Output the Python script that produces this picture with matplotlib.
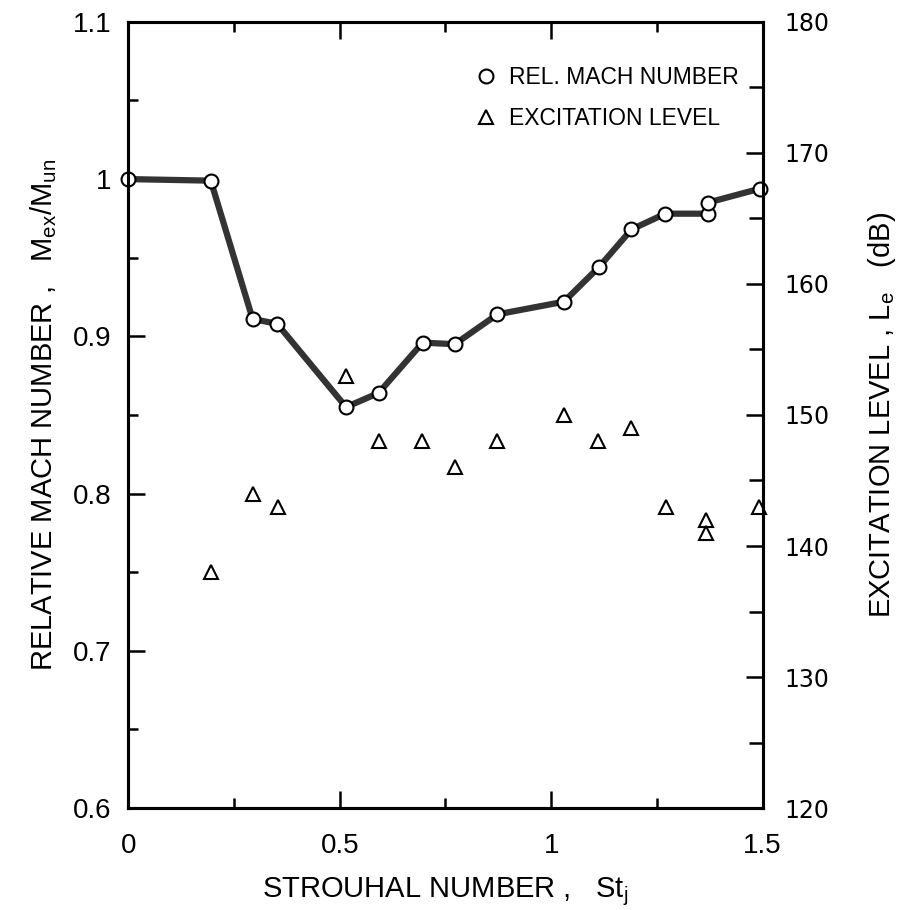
import matplotlib
matplotlib.use("Agg")
import matplotlib.pyplot as plt
from matplotlib.ticker import MultipleLocator

# relative Mach number (left axis)
st_mach = [0.0, 0.195, 0.294, 0.352, 0.515, 0.592, 0.696, 0.772, 0.873,
           1.030, 1.113, 1.190, 1.270, 1.370, 1.370, 1.495]
mach = [1.0, 0.999, 0.911, 0.908, 0.855, 0.864, 0.896, 0.895, 0.914,
        0.922, 0.944, 0.968, 0.978, 0.978, 0.985, 0.994]

# excitation level (right axis, dB)
st_exc = [0.195, 0.296, 0.355, 0.515, 0.592, 0.695, 0.772, 0.871,
          1.031, 1.111, 1.189, 1.271, 1.367, 1.367, 1.492]
exc_db = [138, 144, 143, 153, 148, 148, 146, 148,
          150, 148, 149, 143, 142, 141, 143]

x_ticks = [0, 0.5, 1.0, 1.5]
x_ticklabels = ["0", "0.5", "1", "1.5"]
y_ticks = [0.6, 0.7, 0.8, 0.9, 1.0, 1.1]
y_ticklabels = ["0.6", "0.7", "0.8", "0.9", "1", "1.1"]

NARROW = ["Liberation Sans Narrow", "Liberation Sans", "DejaVu Sans"]
WIDE = ["DejaVu Sans"]

plt.rcParams.update({
    "font.family": NARROW,
    "mathtext.fontset": "custom",
    "mathtext.rm": "Liberation Sans",
    "mathtext.it": "Liberation Sans",
    "axes.linewidth": 2.2,
})

fig = plt.figure(figsize=(9.1, 9.1), dpi=100)
ax = fig.add_axes([0.141, 0.112, 0.697, 0.864])

ax.plot(st_mach, mach, "-", color="0.2", lw=4.5, zorder=2, clip_on=False)
ax.plot(st_mach, mach, "o", ms=10, mfc="white", mec="black", mew=1.5, zorder=3,
        linestyle="none", label="REL. MACH NUMBER", clip_on=False)

ax.set_xlim(0, 1.5)
ax.set_ylim(0.6, 1.1)
ax.set_xticks(x_ticks)
ax.set_xticklabels(x_ticklabels)
ax.xaxis.set_minor_locator(MultipleLocator(0.25))
ax.set_yticks(y_ticks)
ax.set_yticklabels(y_ticklabels)
ax.yaxis.set_minor_locator(MultipleLocator(0.05))
ax.tick_params(which="both", direction="in", top=True, right=False,
               labelsize=20, width=1.8)
ax.tick_params(axis="x", pad=18)
ax.tick_params(axis="y", pad=12)
ax.tick_params(which="major", length=12)
ax.tick_params(which="minor", length=7)

ax.set_xlabel(r"STROUHAL NUMBER ,   St$_\mathrm{j}$", fontsize=21, labelpad=12)
ax.set_ylabel(r"RELATIVE MACH NUMBER ,   M$_\mathrm{ex}$/M$_\mathrm{un}$",
              fontsize=21, labelpad=10)

ax2 = ax.twinx()
ax2.set_ylim(120, 180)
ax2.yaxis.set_major_locator(MultipleLocator(10))
ax2.yaxis.set_minor_locator(MultipleLocator(5))
ax2.tick_params(which="both", direction="in", labelsize=17, width=1.8, pad=16)
ax2.tick_params(which="major", length=12)
ax2.tick_params(which="minor", length=10)
for lab in ax2.get_yticklabels():
    lab.set_family(WIDE)
ax2.plot(st_exc, exc_db, "^", ms=10, mfc="none", mec="black", mew=1.5,
         linestyle="none", label="EXCITATION LEVEL", clip_on=False)
ax2.set_ylabel(r"EXCITATION LEVEL , L$_\mathrm{e}$   (dB)", fontsize=21,
               labelpad=26)

h1, l1 = ax.get_legend_handles_labels()
h2, l2 = ax2.get_legend_handles_labels()
ax2.legend(h1 + h2, l1 + l2, loc="upper right", bbox_to_anchor=(0.995, 0.97),
           frameon=False, fontsize=16.5, handletextpad=0.5, handlelength=1.0,
           labelspacing=0.8, markerscale=1.0)

fig.savefig("out.png", dpi=100)
